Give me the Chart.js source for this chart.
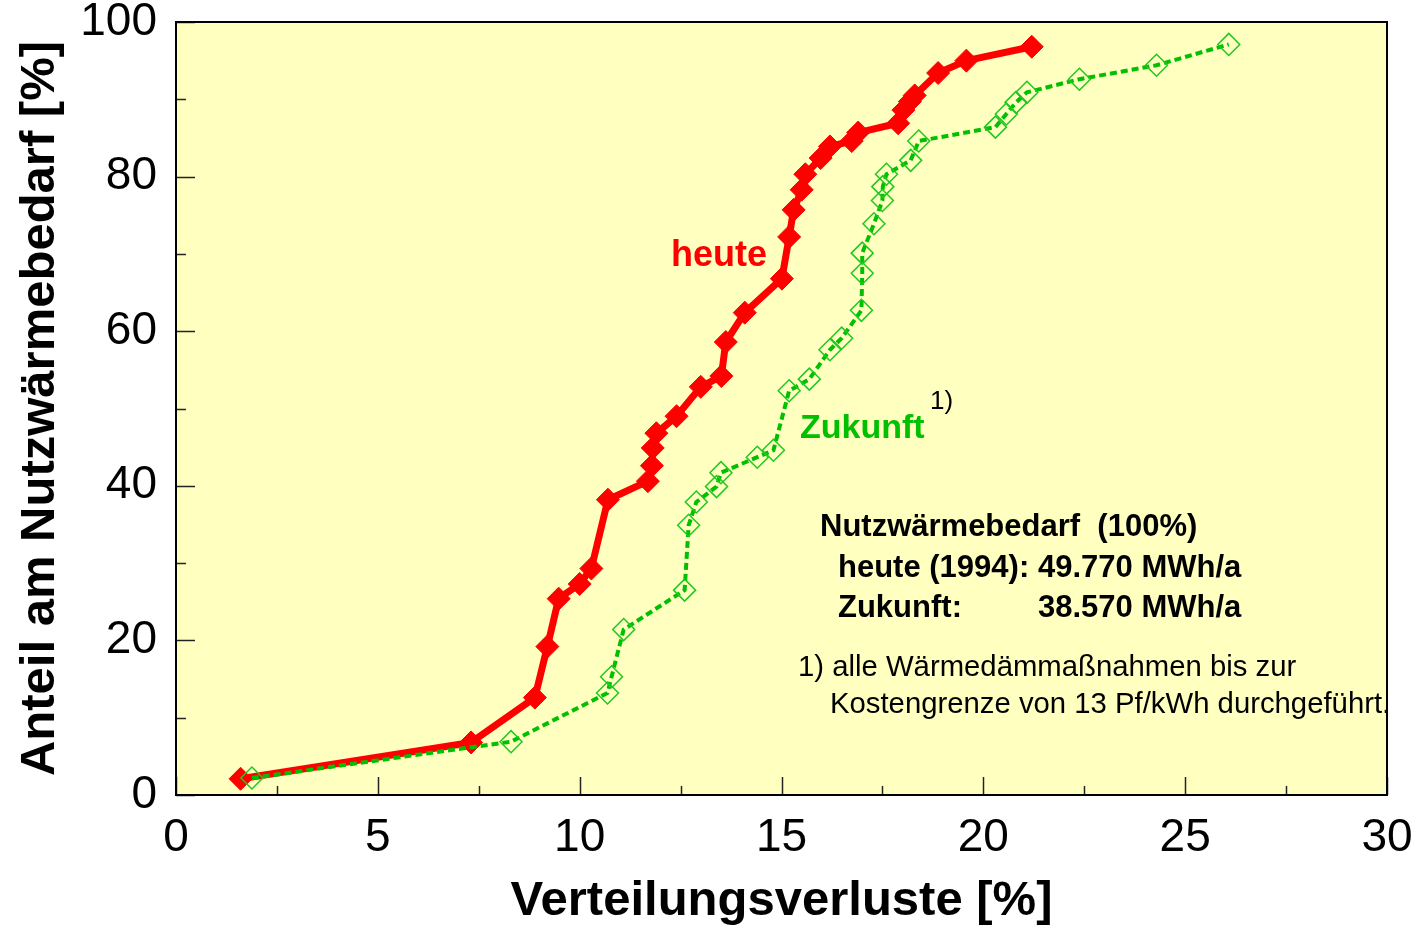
<!DOCTYPE html>
<html><head><meta charset="utf-8">
<script src="https://cdn.jsdelivr.net/npm/chart.js@4/dist/chart.umd.min.js"></script>
<style>html,body{margin:0;padding:0;background:#fff;overflow:hidden}</style>
</head><body>
<canvas id="c" width="1425" height="928"></canvas>
<script>
// ---- data ----
const heuteX = [1.60, 7.31, 8.89, 9.20, 9.48, 10.00, 10.29, 10.70, 11.69, 11.79, 11.81, 11.90, 12.40, 13.00, 13.51, 13.62, 14.09, 15.01, 15.19, 15.30, 15.50, 15.59, 15.97, 16.20, 16.74, 16.90, 17.89, 18.02, 18.18, 18.30, 18.88, 19.58, 21.20];
const heuteY = [2.1, 6.8, 12.6, 19.2, 25.4, 27.3, 29.3, 38.2, 40.6, 42.6, 44.9, 46.8, 49.0, 52.8, 54.2, 58.6, 62.4, 66.8, 72.2, 75.7, 78.3, 80.3, 82.4, 83.9, 84.6, 85.7, 86.9, 88.6, 89.7, 90.5, 93.4, 95.0, 96.8];
const zukunftX = [1.88, 8.30, 10.69, 10.79, 11.09, 12.60, 12.70, 12.89, 13.39, 13.50, 14.40, 14.80, 15.19, 15.69, 16.20, 16.49, 16.98, 17.00, 17.00, 17.29, 17.50, 17.51, 17.60, 18.20, 18.40, 20.30, 20.57, 20.81, 21.08, 22.38, 24.29, 26.08];
const zukunftY = [2.2, 6.9, 13.2, 15.3, 21.4, 26.5, 34.9, 37.9, 39.9, 41.7, 43.7, 44.6, 52.3, 53.8, 57.6, 59.1, 62.7, 67.5, 70.1, 73.9, 76.9, 78.7, 80.3, 82.1, 84.6, 86.4, 88.1, 89.6, 90.9, 92.6, 94.4, 97.1];
const xTickLabels = ['0', '5', '10', '15', '20', '25', '30'];
const yTickLabels = ['0', '20', '40', '60', '80', '100'];
const xTitle = 'Verteilungsverluste [%]';
const yTitle = 'Anteil am Nutzwärmebedarf [%]';
const seriesNames = ['heute', 'Zukunft'];

const FONT = "'Liberation Sans', Arial, Helvetica, sans-serif";

const toPts = (xs, ys) => xs.map((x, i) => ({x: x, y: ys[i]}));

const decor = {
  id: 'decor',
  beforeDraw(chart) {
    const {ctx, chartArea: a} = chart;
    ctx.save();
    ctx.fillStyle = '#ffffc0';
    ctx.fillRect(a.left, a.top, a.right - a.left, a.bottom - a.top);
    ctx.restore();
  },
  afterDraw(chart) {
    const {ctx, chartArea: a, scales} = chart;
    const xs = scales.x, ys = scales.y;
    ctx.save();
    // inward tick marks
    ctx.strokeStyle = '#222';
    ctx.lineWidth = 1.5;
    xs.ticks.forEach(t => {
      const px = Math.round(xs.getPixelForValue(t.value)) + 0.5;
      const major = xTickLabels.includes(String(t.value));
      const len = major ? 18 : 9;
      ctx.beginPath(); ctx.moveTo(px, a.bottom); ctx.lineTo(px, a.bottom - len); ctx.stroke();
    });
    ys.ticks.forEach(t => {
      const py = Math.round(ys.getPixelForValue(t.value)) + 0.5;
      const major = yTickLabels.includes(String(t.value));
      const len = major ? 19 : 10;
      ctx.beginPath(); ctx.moveTo(a.left, py); ctx.lineTo(a.left + len, py); ctx.stroke();
    });
    // frame
    ctx.strokeStyle = '#000';
    ctx.lineWidth = 2;
    ctx.strokeRect(a.left, a.top, a.right - a.left, a.bottom - a.top);

    // annotations
    ctx.textBaseline = 'alphabetic';
    ctx.textAlign = 'left';
    ctx.fillStyle = '#ff0000';
    ctx.font = 'bold 36px ' + FONT;
    ctx.fillText(seriesNames[0], 671, 266);
    ctx.fillStyle = '#00c000';
    ctx.font = 'bold 34px ' + FONT;
    ctx.fillText(seriesNames[1], 800, 438);
    ctx.fillStyle = '#000';
    ctx.font = '26px ' + FONT;
    ctx.fillText('1)', 930, 409);

    ctx.font = 'bold 31px ' + FONT;
    ctx.fillText('Nutzwärmebedarf  (100%)', 820, 536);
    ctx.fillText('heute (1994):', 838, 577);
    ctx.fillText('49.770 MWh/a', 1038, 577);
    ctx.fillText('Zukunft:', 838, 617);
    ctx.fillText('38.570 MWh/a', 1038, 617);

    ctx.font = '29.3px ' + FONT;
    ctx.fillText('1) alle Wärmedämmaßnahmen bis zur', 798, 676);
    ctx.fillText('Kostengrenze von 13 Pf/kWh durchgeführt.', 830, 713);
    ctx.restore();
  }
};

new Chart(document.getElementById('c'), {
  type: 'line',
  data: {
    datasets: [
      {
        label: seriesNames[0],
        data: toPts(heuteX, heuteY),
        order: 2,
        borderColor: '#ff0000',
        backgroundColor: '#ff0000',
        borderWidth: 7,
        borderJoinStyle: 'round',
        tension: 0,
        pointStyle: 'rectRot',
        pointRadius: 11.5,
        pointBackgroundColor: '#ff0000',
        pointBorderColor: '#ff0000',
        pointBorderWidth: 1,
        clip: false
      },
      {
        label: seriesNames[1],
        data: toPts(zukunftX, zukunftY),
        order: 1,
        borderColor: '#00c000',
        backgroundColor: 'rgba(0,0,0,0)',
        borderWidth: 4,
        borderDash: [7, 4],
        tension: 0,
        pointStyle: 'rectRot',
        pointRadius: 11,
        pointBackgroundColor: 'rgba(0,0,0,0)',
        pointBorderColor: '#20c820',
        pointBorderWidth: 1.5,
        clip: false
      }
    ]
  },
  options: {
    responsive: false,
    animation: false,
    devicePixelRatio: 1,
    layout: {padding: {top: 22, right: 38, left: 0, bottom: 0}},
    plugins: {legend: {display: false}, tooltip: {enabled: false}},
    scales: {
      x: {
        type: 'linear', position: 'bottom', min: 0, max: 30,
        grid: {display: false}, border: {display: false},
        ticks: {
          stepSize: 2.5, autoSkip: false, maxRotation: 0, padding: 8, color: '#000',
          font: {family: FONT, size: 46},
          callback: v => xTickLabels.includes(String(v)) ? String(v) : ''
        },
        title: {display: true, text: xTitle, color: '#000',
          font: {family: FONT, size: 49, weight: 'bold', lineHeight: 1},
          padding: {top: 0, bottom: 2}},
        afterFit(s) { s.height = 133; s.paddingLeft = 0; s.paddingRight = 0; }
      },
      y: {
        type: 'linear', position: 'left', min: 0, max: 100,
        grid: {display: false}, border: {display: false},
        ticks: {
          stepSize: 10, autoSkip: false, padding: 11, color: '#000',
          font: {family: FONT, size: 46},
          callback: v => yTickLabels.includes(String(v)) ? String(v) : ''
        },
        title: {display: true, text: yTitle, color: '#000',
          font: {family: FONT, size: 49, weight: 'bold', lineHeight: 1},
          padding: {top: 16, bottom: 0}},
        afterFit(s) { s.width = 176; s.paddingTop = 0; s.paddingBottom = 0; }
      }
    }
  },
  plugins: [decor]
});
</script>
</body></html>
